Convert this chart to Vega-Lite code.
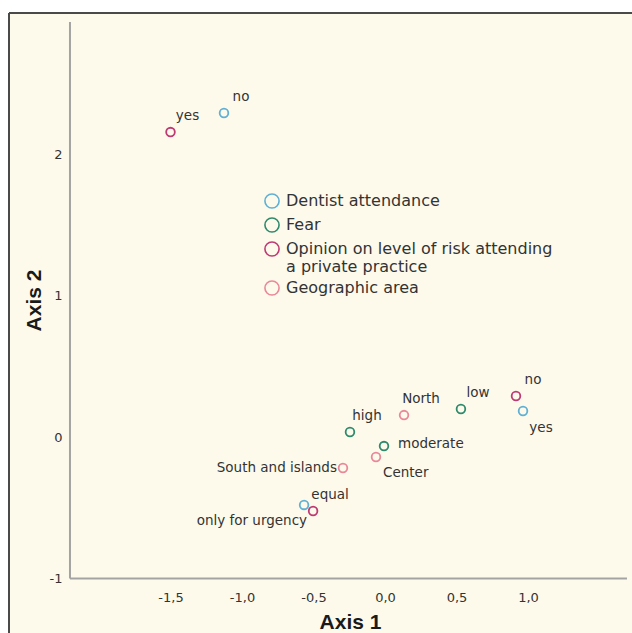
{
  "$schema": "https://vega.github.io/schema/vega-lite/v6.json",
  "autosize": "none",
  "width": 623,
  "height": 620,
  "padding": {"left": 9, "top": 13, "right": 0, "bottom": 0},
  "background": "#ffffff",
  "config": {
    "view": {"fill": "#fdfaec", "stroke": null},
    "font": "DejaVu Sans"
  },
  "datasets": {
    "points": [
      {"variable": "Dentist attendance", "category": "no", "x": -1.126, "y": 2.29},
      {"variable": "Dentist attendance", "category": "yes", "x": 0.965, "y": 0.184},
      {"variable": "Dentist attendance", "category": "only for urgency", "x": -0.566, "y": -0.48},
      {"variable": "Fear", "category": "low", "x": 0.531, "y": 0.198},
      {"variable": "Fear", "category": "high", "x": -0.245, "y": 0.035},
      {"variable": "Fear", "category": "moderate", "x": -0.007, "y": -0.064},
      {"variable": "Opinion on level of risk attending a private practice", "category": "yes", "x": -1.5, "y": 2.155},
      {"variable": "Opinion on level of risk attending a private practice", "category": "no", "x": 0.916, "y": 0.29},
      {"variable": "Opinion on level of risk attending a private practice", "category": "equal", "x": -0.503, "y": -0.523},
      {"variable": "Geographic area", "category": "North", "x": 0.133, "y": 0.155},
      {"variable": "Geographic area", "category": "Center", "x": -0.063, "y": -0.141},
      {"variable": "Geographic area", "category": "South and islands", "x": -0.294, "y": -0.219}
    ],
    "frame": [
      {"x": -2.6294, "x2": 1.7272, "y": 2.9965, "y2": 2.9965},
      {"x": -2.6294, "x2": -2.6294, "y": -1.3851, "y2": 2.9965}
    ],
    "axislines": [
      {"x": -2.203, "x2": 1.692, "y": -1, "y2": -1},
      {"x": -2.203, "x2": -2.203, "y": -1, "y2": 2.933}
    ]
  },
  "layer": [
    {
      "data": {"name": "frame"},
      "mark": {"type": "rule", "stroke": "#4a4a4a", "strokeWidth": 2},
      "encoding": {
        "x": {"field": "x", "type": "quantitative", "scale": {"domain": [-2.6294, 1.7272], "nice": false, "zero": false},
          "axis": {"values": [-1.5, -1, -0.5, 0, 0.5, 1], "format": ".1f", "labelExpr": "replace(replace(datum.label, '.', ','), '\u2212', '-')", "orient": "bottom", "offset": -55, "domain": false, "ticks": false, "tickSize": 0, "grid": false, "labelPadding": 13, "labelFont": "DejaVu Sans", "labelFontSize": 13, "labelColor": "#333333", "title": "Axis 1", "titleFont": "Liberation Sans", "titleFontSize": 21, "titleFontWeight": "bold", "titleColor": "#1a1a1a", "titlePadding": 7, "titleX": 341}},
        "x2": {"field": "x2"},
        "y": {"field": "y", "type": "quantitative", "scale": {"domain": [-1.3851, 2.9965], "nice": false, "zero": false},
          "axis": {"values": [-1, 0, 1, 2], "format": "d", "labelExpr": "replace(datum.label, '\u2212', '-')", "orient": "left", "offset": -61, "domain": false, "ticks": false, "tickSize": 0, "grid": false, "labelPadding": 8, "labelFont": "DejaVu Sans", "labelFontSize": 13, "labelColor": "#333333", "title": "Axis 2", "titleFont": "Liberation Sans", "titleFontSize": 21, "titleFontWeight": "bold", "titleColor": "#1a1a1a", "titlePadding": 5, "titleY": 287}},
        "y2": {"field": "y2"}
      }
    },
    {
      "data": {"name": "axislines"},
      "mark": {"type": "rule", "stroke": "#a3a3a3", "strokeWidth": 2},
      "encoding": {
        "x": {"field": "x", "type": "quantitative"},
        "x2": {"field": "x2"},
        "y": {"field": "y", "type": "quantitative"},
        "y2": {"field": "y2"}
      }
    },
    {
      "data": {"name": "points"},
      "mark": {"type": "point", "shape": "circle", "filled": false, "strokeWidth": 1.8, "size": 75, "opacity": 1},
      "encoding": {
        "x": {"field": "x", "type": "quantitative"},
        "y": {"field": "y", "type": "quantitative"},
        "color": {"field": "variable", "type": "nominal",
          "scale": {"domain": ["Dentist attendance", "Fear", "Opinion on level of risk attending a private practice", "Geographic area"],
                    "range": ["#5fb0d4", "#2f8a6c", "#be3a72", "#e98898"]},
          "legend": {"orient": "none", "legendX": 255, "legendY": 180, "title": null, "symbolType": "circle", "symbolSize": 200, "symbolStrokeWidth": 1.6, "symbolFillColor": "transparent", "labelFont": "DejaVu Sans", "labelFontSize": 16, "labelColor": "#333333", "labelLimit": 400, "labelOffset": 6, "rowPadding": 2,
            "labelExpr": "datum.label == 'Opinion on level of risk attending a private practice' ? ['Opinion on level of risk attending', 'a private practice'] : datum.label"}
        }
      }
    },
    {
      "data": {"name": "points"},
      "transform": [{"filter": "indexof(['O|yes','D|no','O|no','F|low','G|North','F|high','O|equal'], substring(datum.variable,0,1)+'|'+datum.category) >= 0"}],
      "mark": {"type": "text", "align": "center", "baseline": "middle", "dx": 17, "dy": -16, "font": "DejaVu Sans", "fontSize": 13.5, "fill": "#333333"},
      "encoding": {"x": {"field": "x", "type": "quantitative"}, "y": {"field": "y", "type": "quantitative"}, "text": {"field": "category"}}
    },
    {
      "data": {"name": "points"},
      "transform": [{"filter": "datum.variable == 'Dentist attendance' && datum.category == 'yes'"}],
      "mark": {"type": "text", "align": "center", "baseline": "middle", "dx": 18, "dy": 17, "font": "DejaVu Sans", "fontSize": 13.5, "fill": "#333333"},
      "encoding": {"x": {"field": "x", "type": "quantitative"}, "y": {"field": "y", "type": "quantitative"}, "text": {"field": "category"}}
    },
    {
      "data": {"name": "points"},
      "transform": [{"filter": "datum.category == 'moderate'"}],
      "mark": {"type": "text", "align": "left", "baseline": "middle", "dx": 14, "dy": -2, "font": "DejaVu Sans", "fontSize": 13.5, "fill": "#333333"},
      "encoding": {"x": {"field": "x", "type": "quantitative"}, "y": {"field": "y", "type": "quantitative"}, "text": {"field": "category"}}
    },
    {
      "data": {"name": "points"},
      "transform": [{"filter": "datum.category == 'Center'"}],
      "mark": {"type": "text", "align": "left", "baseline": "middle", "dx": 7, "dy": 16, "font": "DejaVu Sans", "fontSize": 13.5, "fill": "#333333"},
      "encoding": {"x": {"field": "x", "type": "quantitative"}, "y": {"field": "y", "type": "quantitative"}, "text": {"field": "category"}}
    },
    {
      "data": {"name": "points"},
      "transform": [{"filter": "datum.category == 'South and islands'"}],
      "mark": {"type": "text", "align": "right", "baseline": "middle", "dx": -6, "dy": 0, "font": "DejaVu Sans", "fontSize": 13.5, "fill": "#333333"},
      "encoding": {"x": {"field": "x", "type": "quantitative"}, "y": {"field": "y", "type": "quantitative"}, "text": {"field": "category"}}
    },
    {
      "data": {"name": "points"},
      "transform": [{"filter": "datum.category == 'only for urgency'"}],
      "mark": {"type": "text", "align": "right", "baseline": "middle", "dx": 3, "dy": 16, "font": "DejaVu Sans", "fontSize": 13.5, "fill": "#333333"},
      "encoding": {"x": {"field": "x", "type": "quantitative"}, "y": {"field": "y", "type": "quantitative"}, "text": {"field": "category"}}
    }
  ]
}
